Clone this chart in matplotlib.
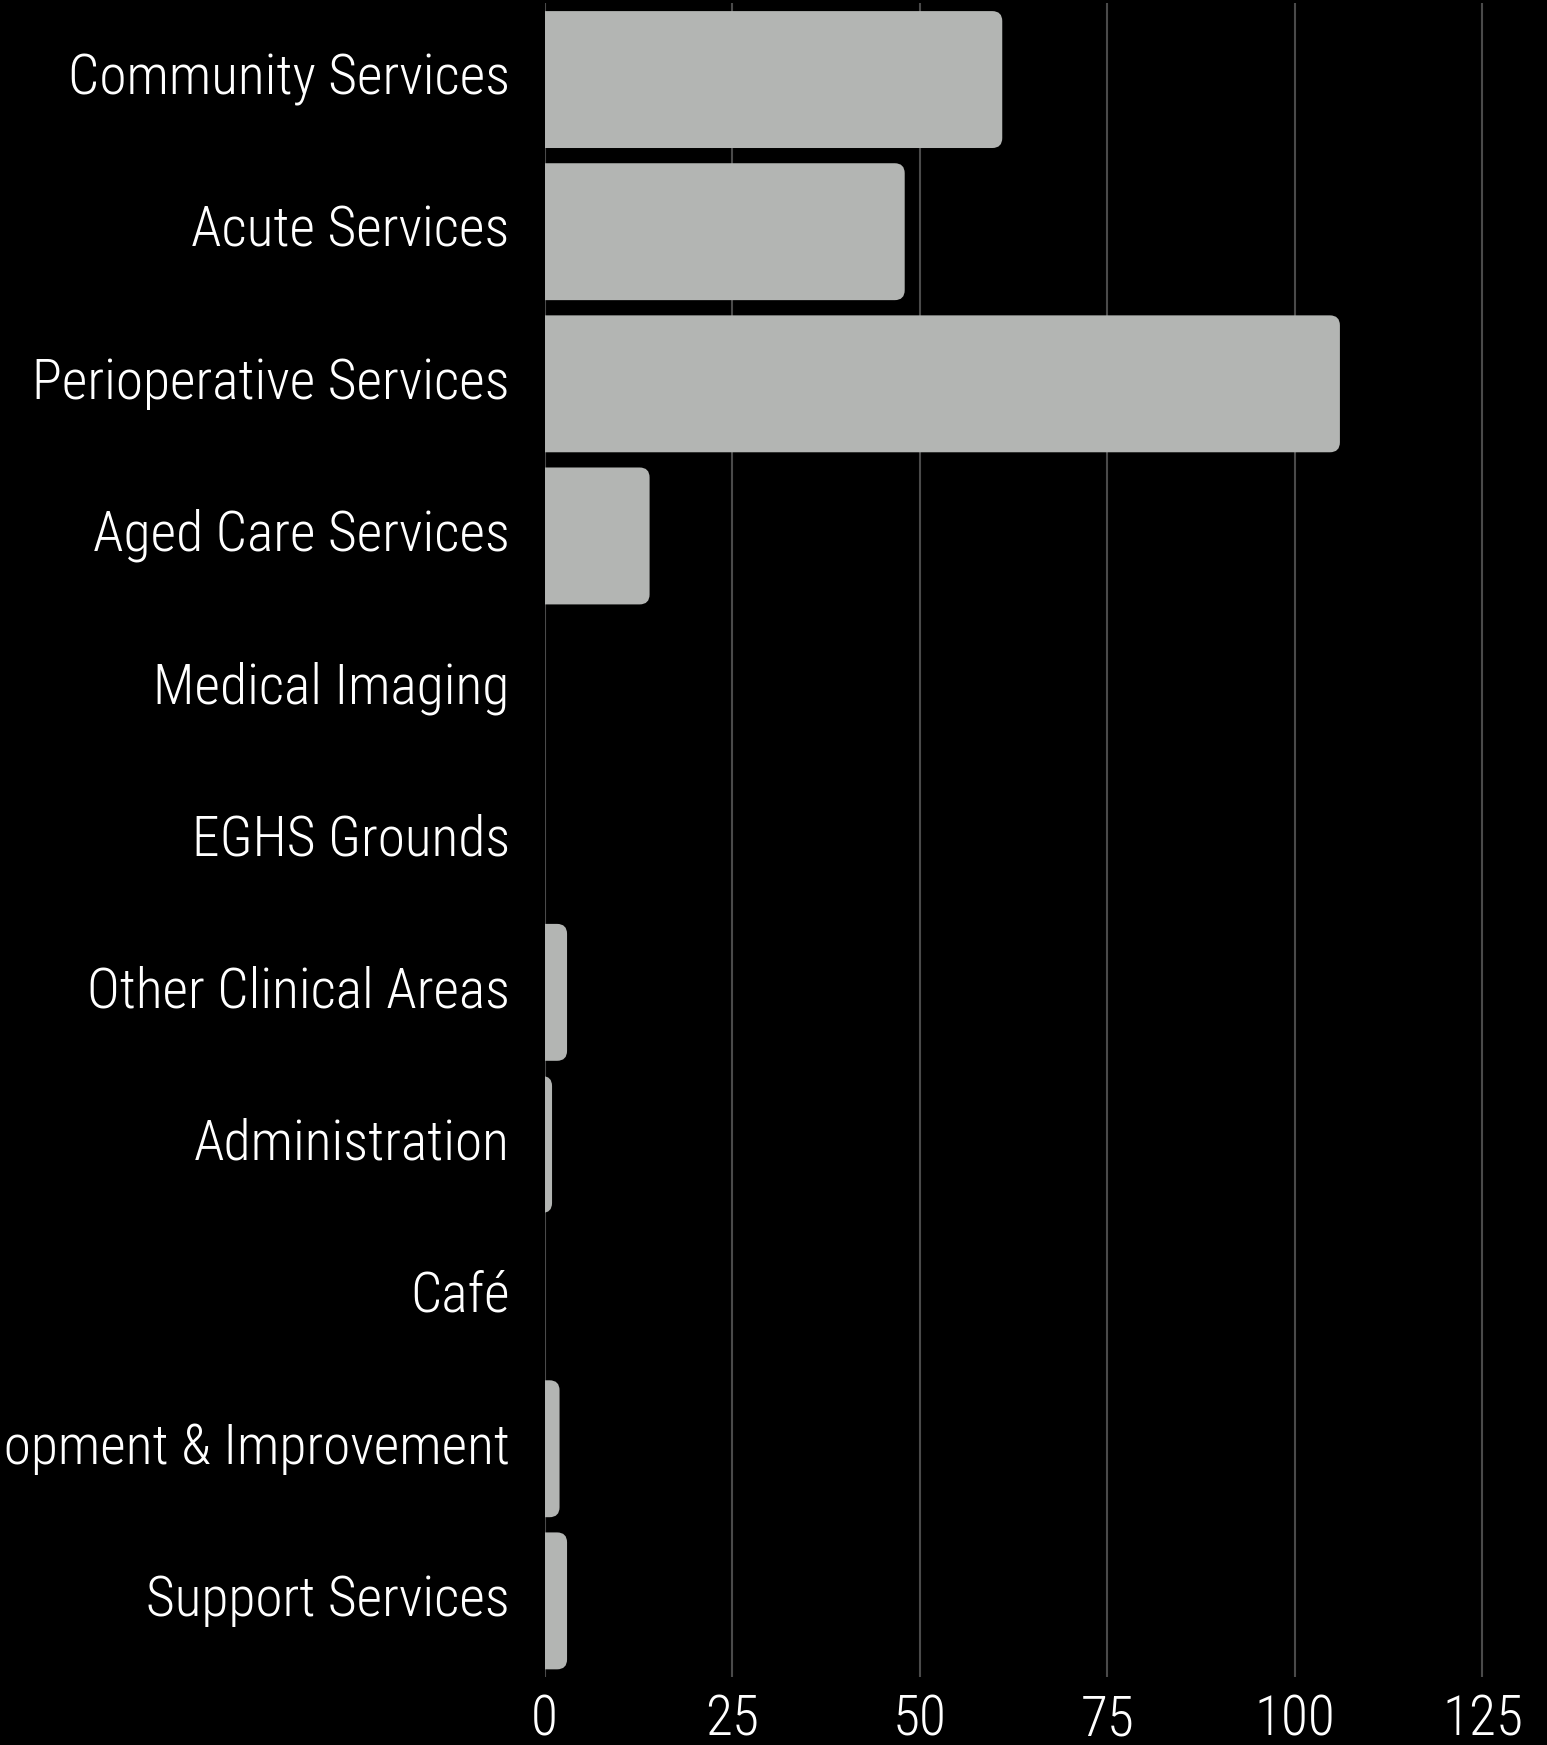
import matplotlib
matplotlib.use("Agg")
import matplotlib.pyplot as plt
import matplotlib.transforms as mtransforms
from matplotlib import font_manager
from matplotlib.patches import FancyBboxPatch

categories = [
    "Community Services",
    "Acute Services",
    "Perioperative Services",
    "Aged Care Services",
    "Medical Imaging",
    "EGHS Grounds",
    "Other Clinical Areas",
    "Administration",
    "Café",
    "Development & Improvement",
    "Support Services",
]
values = [61, 48, 106, 14, 0, 0, 3, 1, 0, 2, 3]
xticks = [0, 25, 50, 75, 100, 125]

# pick a narrow font if one is installed
names = {f.name for f in font_manager.fontManager.ttflist}
if "Roboto Condensed" in names:
    font = "Roboto Condensed"
elif "Liberation Sans Narrow" in names:
    font = "Liberation Sans Narrow"
else:
    font = "DejaVu Sans"
plt.rcParams["font.family"] = [font, "DejaVu Sans"]
plt.rcParams["font.weight"] = "light"

fig = plt.figure(figsize=(15.47, 17.45), dpi=100, facecolor="black")
ax = fig.add_axes([0.352, 0.039, 0.648, 0.959], facecolor="black")

ypos = list(range(len(categories)))
bars = ax.barh(ypos, values, height=0.9, color="#b3b5b3")

ax.set_xlim(0, 133.6)
ax.set_ylim(len(categories) - 0.5, -0.5)

# swap the plain bars for ones with rounded right corners
px_x = 133.6 / (0.648 * 1547)
px_y = len(categories) / (0.959 * 1745)
r = 10 * px_x
for b in bars:
    w = b.get_width()
    b.set_visible(False)
    if w <= 0:
        continue
    p = FancyBboxPatch((b.get_x() - 2 * r, b.get_y()), w + 2 * r, b.get_height(),
                       boxstyle=f"round,pad=0,rounding_size={r}",
                       mutation_aspect=px_y / px_x,
                       facecolor="#b3b5b3", edgecolor="none", zorder=3)
    ax.add_patch(p)

ax.set_xticks(xticks)
ax.set_yticks(ypos)
ax.set_yticklabels(categories)
ax.xaxis.grid(True, color="#4a4a4a", linewidth=1.5)
ax.set_axisbelow(True)
ax.tick_params(axis="x", length=0, pad=12, labelsize=40, labelcolor="white")
ax.tick_params(axis="y", length=0, pad=25, labelsize=40, labelcolor="white")
for s in ax.spines.values():
    s.set_visible(False)

# nudge the category labels up a little
shift = mtransforms.ScaledTranslation(0, 6 / 100, fig.dpi_scale_trans)
for lbl in ax.get_yticklabels():
    lbl.set_transform(lbl.get_transform() + shift)

fig.savefig("out.png", dpi=100, facecolor="black")
